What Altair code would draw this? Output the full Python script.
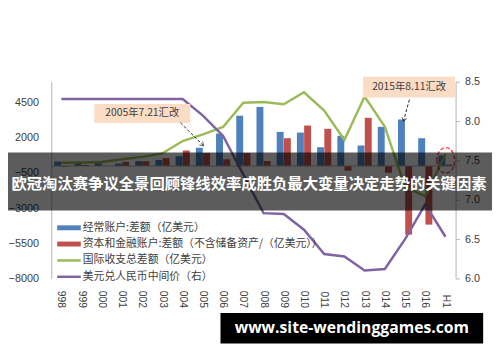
import altair as alt
import pandas as pd

categories = ["1998", "1999", "2000", "2001", "2002", "2003", "2004", "2005", "2006", "2007",
              "2008", "2009", "2010", "2011", "2012", "2013", "2014", "2015", "2016", "2017H1"]
tick_labels = ["998", "999", "000", "001", "002", "003", "004", "005", "006", "007",
               "008", "009", "010", "011", "012", "013", "014", "015", "016", "H1"]

current_account = [315, 211, 205, 174, 354, 431, 689, 1300, 2310, 3580,
                   4206, 2430, 2380, 1340, 2150, 1460, 2790, 3310, 1980, 750]
capital_account = [-63, 76, 20, 300, 340, 560, 1107, 930, 480, 930,
                   360, 1980, 2880, 2650, -330, 3430, -480, -4880, -4170, 100]
bop_total = [240, 250, 280, 480, 650, 900, 1780, 2250, 2780, 4500,
             4550, 4400, 5250, 3950, 1850, 4950, 2800, -1500, -2150, 850]
usd_cny = [8.28, 8.28, 8.28, 8.28, 8.28, 8.28, 8.28, 8.07, 7.81, 7.32,
           6.83, 6.82, 6.62, 6.31, 6.28, 6.10, 6.12, 6.50, 6.94, 6.53]

legend_names = ["经常账户:差额（亿美元）",
                "资本和金融账户:差额（不含储备资产/（亿美元））",
                "国际收支总差额（亿美元）",
                "美元兑人民币中间价（右）"]
banner_text = "欧冠淘汰赛争议全景回顾锋线效率成胜负最大变量决定走势的关键因素"
watermark_text = "www.site-wendinggames.com"
note_2005 = "2005年7.21汇改"
note_2015 = "2015年8.11汇改"

BLUE, RED, GREEN, PURPLE = "#4F81BD", "#C0504D", "#9BBB59", "#8064A2"
TXT = "#404040"
AXC = "#b3b3b3"
W, H = 411, 200

bar_df = pd.DataFrame({
    "cat": categories * 2,
    "s": ["ca"] * len(categories) + ["ka"] * len(categories),
    "v": current_account + capital_account,
})
line_df = pd.DataFrame({"cat": categories, "lab": tick_labels, "bop": bop_total, "fx": usd_cny})

x_scale = alt.Scale(domain=categories, paddingInner=0.3, paddingOuter=0.15)
left_scale = alt.Scale(domain=[-8000, 6000], nice=False, zero=False)
right_scale = alt.Scale(domain=[6.0, 8.5], nice=False, zero=False)

X = alt.X("cat:N", scale=x_scale, sort=categories, axis=None)
XC = alt.X("cat:N", scale=x_scale, sort=categories, bandPosition=0.5, axis=None)

bars = alt.Chart(bar_df).mark_bar().encode(
    x=X,
    xOffset=alt.XOffset("s:N", scale=alt.Scale(domain=["ca", "ka"], paddingInner=0.04)),
    y=alt.Y("v:Q", scale=left_scale,
            axis=alt.Axis(title=None, values=[-8000, -5500, -3000, -500, 2000, 4500],
                          format="d", ticks=False, labelPadding=13, domainColor=AXC, grid=False,
                          labelFontSize=11, labelColor=TXT, labelFont="Liberation Sans")),
    y2=alt.datum(0),
    color=alt.Color("s:N", scale=alt.Scale(domain=["ca", "ka"], range=[BLUE, RED]), legend=None),
)

zero_rule = alt.Chart(pd.DataFrame({"z": [0]})).mark_rule(color=AXC, strokeWidth=1).encode(
    y=alt.Y("z:Q", scale=left_scale, axis=None), x=alt.value(0), x2=alt.value(W))

green = alt.Chart(line_df).mark_line(color=GREEN, strokeWidth=2.5).encode(
    x=XC, y=alt.Y("bop:Q", scale=left_scale, axis=None))

purple = alt.Chart(line_df).mark_line(color=PURPLE, strokeWidth=2.5).encode(
    x=XC,
    y=alt.Y("fx:Q", scale=right_scale,
            axis=alt.Axis(orient="right", title=None, values=[6.0, 6.5, 7.0, 7.5, 8.0, 8.5],
                          format=".1f", tickSize=4, tickColor=AXC, domainColor=AXC,
                          labelPadding=5, grid=False, labelFontSize=11, labelColor=TXT,
                          labelFont="Liberation Sans")))

# category labels (rotated, reading downward, ending at a fixed line)
xlabels = alt.Chart(line_df).mark_text(angle=90, align="right", baseline="middle",
                                        font="Liberation Sans", fontSize=10.5, color=TXT).encode(
    x=XC, y=alt.value(H + 30), text="lab:N")

one = pd.DataFrame({"a": [0]})
CJK = "Noto Sans CJK SC"

def rect(x, x2, y, y2, **kw):
    return alt.Chart(one).mark_rect(**kw).encode(
        x=alt.value(x), x2=alt.value(x2), y=alt.value(y), y2=alt.value(y2))

def text(t, x, y, **kw):
    return alt.Chart(one).mark_text(text=t, baseline="middle", **kw).encode(
        x=alt.value(x), y=alt.value(y))

def seg(x, y, x2, y2, **kw):
    return alt.Chart(one).mark_rule(**kw).encode(
        x=alt.value(x), y=alt.value(y), x2=alt.value(x2), y2=alt.value(y2))

def sym(shape, x, y, size, angle=0, **kw):
    return alt.Chart(one).mark_point(shape=shape, size=size, angle=angle, **kw).encode(
        x=alt.value(x), y=alt.value(y))

ARROW = "M-0.7,-1 L0,0 L0.7,-1"
ELLIPSE = "M-0.7,0 A0.7,1 0 1,0 0.7,0 A0.7,1 0 1,0 -0.7,0"

# legend
leg = [
    rect(6, 30, 146, 151, color=BLUE),
    rect(6, 30, 162.5, 167.5, color=RED),
    seg(6, 181.7, 30, 181.7, color=GREEN, strokeWidth=2.5),
    seg(6, 198.3, 30, 198.3, color=PURPLE, strokeWidth=2.5),
]
for i, yy in enumerate([148.3, 165, 181.7, 198.3]):
    leg.append(text(legend_names[i], 32, yy, align="left", font=CJK, fontSize=11, color=TXT))

# annotations
notes = [
    rect(43.7, 141.3, 22.7, 42, color="#FBDCC5"),
    text(note_2005, 92.5, 32.3, align="center", font=CJK, fontSize=10.5, color=TXT),
    seg(131.3, 41.7, 154.7, 65, color="#222222", strokeWidth=1, strokeDash=[3, 2]),
    sym(ARROW, 154.7, 65, 49, angle=315, filled=False, color="#222222", strokeWidth=1),
    rect(317, 410.3, -5, 16, color="#FBDCC5"),
    text(note_2015, 363.7, 5.5, align="center", font=CJK, fontSize=10.5, color=TXT),
    seg(364, 18.3, 358, 40, color="#222222", strokeWidth=1, strokeDash=[3, 2]),
    sym(ARROW, 358, 40, 49, angle=15, filled=False, color="#222222", strokeWidth=1),
    sym(ELLIPSE, 401, 80, 676, filled=False, color="#FF0000", strokeWidth=1.5, strokeDash=[4, 2]),
]

overlay = [
    rect(-44, 448, 72, 131, color="#000000", opacity=0.64),
    text(banner_text, 201, 104, align="center", font=CJK, fontSize=15.6, fontWeight="bold", color="#ffffff"),
    rect(172, 439, 235, 266, color="#000000"),
    text(watermark_text, 305.5, 250.5, align="center", font="Open Sans", fontSize=16, fontWeight="bold", color="#ffffff"),
]

chart = alt.layer(bars, zero_rule, green, purple, xlabels, *leg, *notes, *overlay).resolve_scale(
    y="independent"
).properties(
    width=W, height=H,
    autosize=alt.AutoSizeParams(type="none"),
    padding={"left": 44, "top": 72, "right": 37, "bottom": 82},
).configure_view(stroke=None)

chart.save("out.html", embed_options={"renderer": "svg", "actions": False})
